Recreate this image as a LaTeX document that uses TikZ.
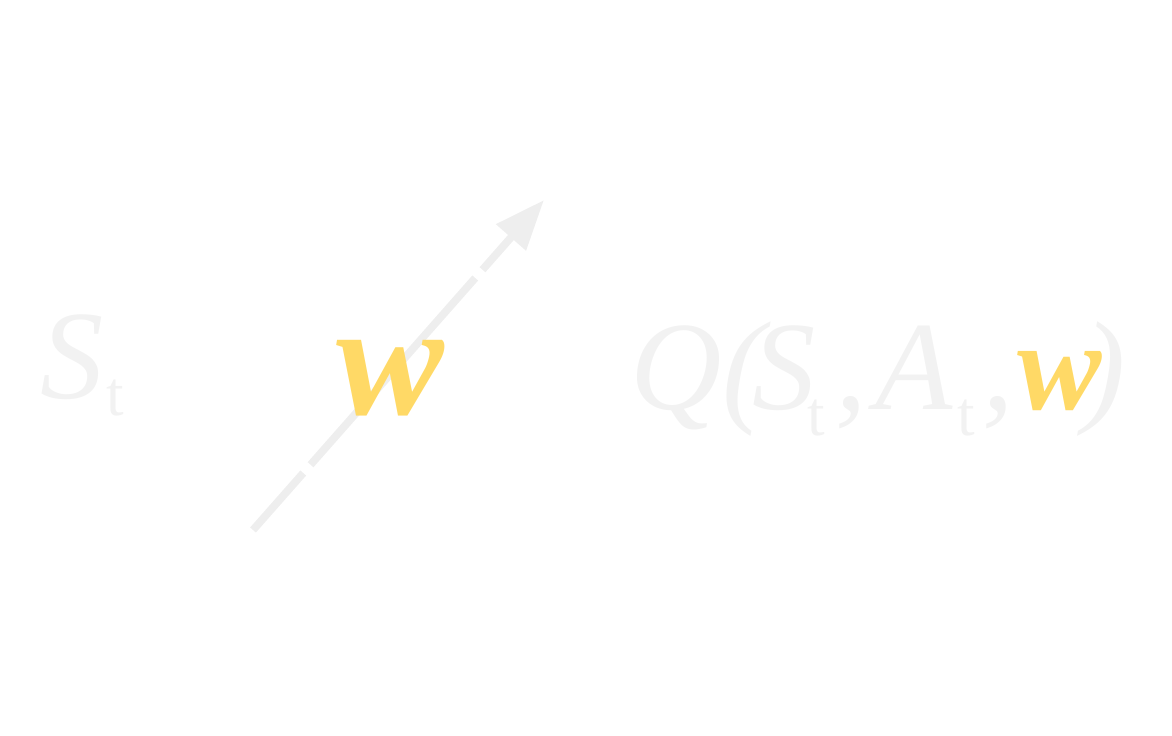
\documentclass[tikz,border=0pt]{standalone}
\usepackage{fontspec}
\setmainfont{Liberation Serif}
\usetikzlibrary{arrows.meta}

\definecolor{faint}{HTML}{F2F2F2}
\definecolor{arrowgray}{HTML}{EEEEEE}
\definecolor{gold}{HTML}{FFD966}

% lowered small index
\newcommand{\subt}[2][0.17cm]{\raisebox{-#1}{\fontsize{18}{18}\selectfont #2}}

\begin{document}
\begin{tikzpicture}
\useasboundingbox (0,0) rectangle (11.72,7.35);
\tikzset{
  txt/.style={anchor=base west, inner sep=0pt, text=faint, font=\fontsize{36}{36}\selectfont},
}

% update arrow through the weights
\coordinate (tail) at (2.53,2.05);
\coordinate (head) at (5.44,5.35);
\draw[arrowgray, line width=2.2pt, dash pattern=on 0.76cm off 0.11cm on 2.49cm off 0.11cm on 3cm,
      -{Triangle[length=0.5cm,width=0.38cm]}] (tail) -- (head);

\node[txt] (state) at (0.40,3.37) {\textit{S}\kern0.03cm\subt{t}};
\node[txt, text=gold, font=\fontsize{46}{46}\selectfont] (weights) at (3.36,3.21) {\textbf{\textit{w}}};
\node[txt] (qvalue) at (6.30,3.26)
  {\textit{Q(}\kern-0.18cm\textit{S}\kern-0.08cm\subt[0.26cm]{t}\kern0.10cm\textit{,}\kern0.08cm\textit{A}\kern0.05cm\subt[0.26cm]{t}\kern0.07cm\textit{,}\kern0.03cm\textcolor{gold}{\textbf{\textit{w}}}\kern-0.18cm\textit{)}};
\end{tikzpicture}
\end{document}
